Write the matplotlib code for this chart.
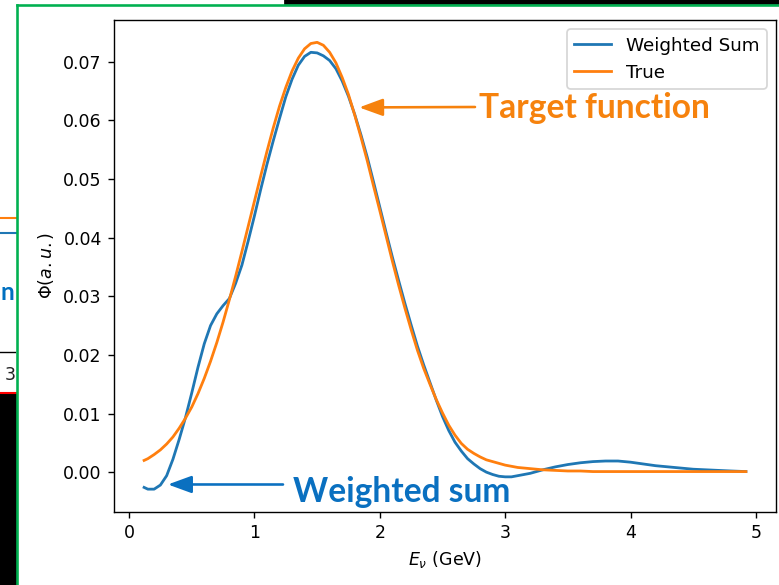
import matplotlib
matplotlib.use("Agg")
import matplotlib.pyplot as plt
from matplotlib.patches import Rectangle
from matplotlib.lines import Line2D

# energy grid (GeV) and the two curves
energy = [0.12, 0.15, 0.2, 0.25, 0.3, 0.35, 0.4, 0.45, 0.5, 0.55,
          0.6, 0.65, 0.7, 0.75, 0.8, 0.85, 0.9, 0.95, 1.0, 1.05,
          1.1, 1.15, 1.2, 1.25, 1.3, 1.35, 1.4, 1.45, 1.5, 1.55,
          1.6, 1.65, 1.7, 1.75, 1.8, 1.85, 1.9, 1.95, 2.0, 2.05,
          2.1, 2.15, 2.2, 2.25, 2.3, 2.35, 2.4, 2.45, 2.5, 2.55,
          2.6, 2.65, 2.7, 2.75, 2.8, 2.85, 2.9, 2.95, 3.0, 3.05,
          3.1, 3.15, 3.2, 3.25, 3.3, 3.4, 3.5, 3.6, 3.7, 3.8,
          3.9, 4.0, 4.1, 4.2, 4.3, 4.4, 4.5, 4.6, 4.7, 4.8, 4.92]

weighted_sum = [-0.0026, -0.0029, -0.0029, -0.0022, -0.0006, 0.0022, 0.0056, 0.0093, 0.0135, 0.0179,
                0.0219, 0.0250, 0.0270, 0.0284, 0.0296, 0.0322, 0.0353, 0.0394, 0.0437, 0.0482,
                0.0525, 0.0565, 0.0603, 0.0640, 0.0670, 0.0694, 0.0709, 0.0716, 0.0715, 0.0710,
                0.0702, 0.0688, 0.0667, 0.0641, 0.0610, 0.0575, 0.0537, 0.0495, 0.0452, 0.0409,
                0.0367, 0.0327, 0.0288, 0.0251, 0.0215, 0.0183, 0.0153, 0.0123, 0.0095, 0.0071,
                0.0051, 0.0036, 0.0023, 0.0014, 0.0006, 0.0000, -0.0004, -0.0007, -0.0008, -0.0008,
                -0.0006, -0.0004, -0.0002, 0.0001, 0.0004, 0.0009, 0.0013, 0.0016, 0.0018, 0.0019,
                0.0019, 0.0017, 0.0014, 0.0011, 0.0009, 0.0007, 0.0005, 0.0004, 0.0003, 0.0002, 0.0001]

true_flux = [0.0020, 0.0023, 0.0030, 0.0038, 0.0048, 0.0060, 0.0075, 0.0092, 0.0111, 0.0134,
             0.0160, 0.0189, 0.0221, 0.0256, 0.0294, 0.0334, 0.0376, 0.0419, 0.0462, 0.0505,
             0.0547, 0.0587, 0.0624, 0.0656, 0.0684, 0.0706, 0.0722, 0.0731, 0.0733, 0.0728,
             0.0716, 0.0698, 0.0673, 0.0644, 0.0609, 0.0571, 0.0531, 0.0488, 0.0446, 0.0403,
             0.0360, 0.0319, 0.0280, 0.0243, 0.0208, 0.0177, 0.0150, 0.0124, 0.0101, 0.0080,
             0.0063, 0.0049, 0.0039, 0.0032, 0.0026, 0.0021, 0.0018, 0.0015, 0.0012, 0.0010,
             0.0008, 0.0007, 0.0006, 0.0005, 0.0004, 0.0003, 0.0002, 0.0002, 0.0001, 0.0001,
             0.0001, 0.0001, 0.0001, 0.0001, 0.0001, 0.0001, 0.0001, 0.0001, 0.0001, 0.0001, 0.0001]

W, H = 779, 585
fig = plt.figure(figsize=(W / 125, H / 125), dpi=125)


def px(x, y):
    # screen pixel (from top-left) -> figure fraction
    return x / W, 1 - y / H


# slide clutter around the pasted plot
fig.add_artist(Rectangle(px(0, 585), 17 / W, 192 / H, transform=fig.transFigure, color="black"))
fig.add_artist(Rectangle(px(285, 4), (W - 285) / W, 4 / H, transform=fig.transFigure, color="black"))
fig.add_artist(Line2D([0, 17 / W], [1 - 393 / H] * 2, transform=fig.transFigure, color="red", lw=1.2))
fig.add_artist(Line2D([0, 17 / W], [1 - 218 / H] * 2, transform=fig.transFigure, color="#ff7f0e", lw=1.2))
fig.add_artist(Line2D([0, 17 / W], [1 - 233 / H] * 2, transform=fig.transFigure, color="#1f77b4", lw=1.2))
fig.add_artist(Line2D([0, 15 / W], [1 - 352 / H] * 2, transform=fig.transFigure, color="black", lw=0.8))
fig.text(*px(5, 380), "3", fontsize=10, color="#222222")
fig.text(*px(1, 300), "n", fontsize=14, color="#0070c0", fontweight="bold", family="Lato")
fig.add_artist(Line2D([17 / W, 17 / W], [0, 1 - 5 / H], transform=fig.transFigure, color="#00b050", lw=1.5))
fig.add_artist(Line2D([17 / W, 1], [1 - 5 / H] * 2, transform=fig.transFigure, color="#00b050", lw=1.5))

ax = fig.add_axes([114 / W, 1 - 511.5 / H, (776 - 114) / W, (511.5 - 20) / H])
ax.plot(energy, weighted_sum, label="Weighted Sum", lw=1.6)
ax.plot(energy, true_flux, label="True", lw=1.6)
ax.set_xlabel(r"$E_\nu$ (GeV)")
ax.set_ylabel(r"$\Phi(a.u.)$")
ax.legend(loc="upper right", fontsize=10.6)

orange = "#f6820d"
blue = "#0a70c0"
arrow = dict(arrowstyle="-|>,head_length=1.15,head_width=0.42", lw=1.5, mutation_scale=10,
             shrinkA=0, shrinkB=0)

ax.annotate("", xy=(1.835, 0.0622), xycoords="data",
            xytext=(475, H - 107), textcoords="figure pixels",
            arrowprops=dict(arrow, color=orange))
fig.text(*px(479, 117.5), "Target function", color=orange, fontsize=19.3,
         fontweight="bold", family="Lato", va="baseline")

ax.annotate("", xy=(0.31, -0.0021), xycoords="data",
            xytext=(283, H - 484.5), textcoords="figure pixels",
            arrowprops=dict(arrow, color=blue))
fig.text(*px(293, 501.5), "Weighted sum", color=blue, fontsize=19.3,
         fontweight="bold", family="Lato", va="baseline")

fig.savefig("out.png", dpi=125)
